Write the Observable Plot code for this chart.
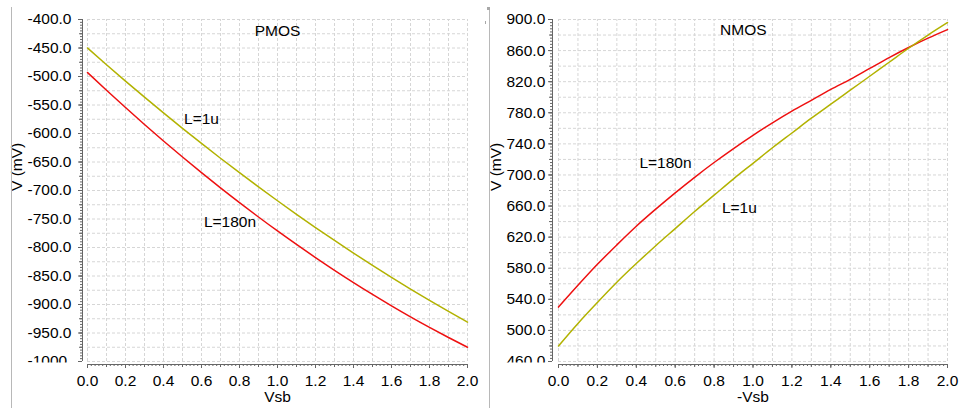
<!DOCTYPE html>
<html>
<head>
<meta charset="utf-8">
<script src="https://cdn.jsdelivr.net/npm/d3@7"></script>
<script src="https://cdn.jsdelivr.net/npm/@observablehq/plot@0.6"></script>
<style>
  html, body { margin: 0; padding: 0; background: #fff; }
  #wrap { position: relative; width: 959px; height: 408px; overflow: hidden; }
  .panel { position: absolute; top: 0; }
  .edge { position: absolute; top: 7px; height: 401px; width: 0; border-left: 1px solid #b8b8b8; }
  .knob { position: absolute; background: #a8a8a8; }
</style>
</head>
<body>
<div id="wrap">
  <div class="panel" id="pmos" style="left:0px"></div>
  <div class="panel" id="nmos" style="left:480px"></div>
  <div class="edge" style="left:11px"></div>
  <div class="edge" style="left:489px"></div>
  <div class="knob" style="left:487px;top:7px;width:3px;height:3px"></div>
  <div class="knob" style="left:485px;top:21px;width:1px;height:3px"></div>
</div>
<script>
// Body-bias sweep (V)
const vsb = [0.0, 0.1, 0.2, 0.3, 0.4, 0.5, 0.6, 0.7, 0.8, 0.9, 1.0,
             1.1, 1.2, 1.3, 1.4, 1.5, 1.6, 1.7, 1.8, 1.9, 2.0];

// PMOS threshold voltage (mV)
const pmosL1u   = [-450, -479.3, -508, -536.2, -563.8, -590.9, -617.4, -643.4, -668.8, -693.7, -718,
                   -741.8, -765, -787.7, -809.8, -831.4, -852.4, -872.9, -892.8, -912.2, -931];
const pmosL180n = [-493, -524.1, -554.5, -584.2, -613.1, -641.3, -668.7, -695.4, -721.3, -746.5, -771,
                   -794.7, -817.7, -840, -861.5, -882.3, -902.3, -921.6, -940.1, -957.9, -975];

// NMOS threshold voltage (mV)
const nmosL180n = [530, 558, 585, 610, 634, 656, 677, 697, 716, 734, 751,
                   767, 782, 796, 810, 823, 837, 851, 864, 876, 887];
const nmosL1u   = [480, 509, 536, 562, 586, 609, 631, 653, 674, 695, 715,
                   735, 754, 773, 791, 809, 827, 845, 863, 880, 896];

// Tick values and their printed labels
const xTicks  = [0, 0.2, 0.4, 0.6, 0.8, 1.0, 1.2, 1.4, 1.6, 1.8, 2.0];
const xLabels = ["0.0", "0.2", "0.4", "0.6", "0.8", "1.0", "1.2", "1.4", "1.6", "1.8", "2.0"];
const pmosYTicks  = [-400, -450, -500, -550, -600, -650, -700, -750, -800, -850, -900, -950, -1000];
const pmosYLabels = ["-400.0", "-450.0", "-500.0", "-550.0", "-600.0", "-650.0", "-700.0",
                     "-750.0", "-800.0", "-850.0", "-900.0", "-950.0", "-1000"];
const nmosYTicks  = [900, 860, 820, 780, 740, 700, 660, 620, 580, 540, 500, 460];
const nmosYLabels = ["900.0", "860.0", "820.0", "780.0", "740.0", "700.0", "660.0",
                     "620.0", "580.0", "540.0", "500.0", "460.0"];

const RED = "#ee1010";
const OLIVE = "#b2b200";
const FONT = "'Liberation Sans', Arial, Helvetica, sans-serif";

const rows = (ys) => vsb.map((x, i) => ({vsb: x, v: ys[i]}));

function panel(el, cfg) {
  const [y0, y1] = cfg.yDomain;
  const labelOf = (ticks, labels) => (d) => labels[ticks.findIndex((t) => Math.abs(t - d) < 1e-9)] ?? "";
  const xMinor = d3.range(0, 2.0001, 0.02);
  const xMid = d3.range(0, 2.0001, 0.1);
  const xGrid = d3.range(0, 2.0001, 0.1);
  const yMinor = d3.range(y0, y1 + 1e-6, cfg.yMinorStep);
  const yMid = d3.range(y0, y1 + 1e-6, cfg.yGridStep);
  const grid = {stroke: "#d6d6d6", strokeDasharray: "3,2", strokeWidth: 1};
  const axisStroke = "#666";

  const chart = Plot.plot({
    width: cfg.width,
    height: 408,
    marginLeft: cfg.marginLeft,
    marginRight: cfg.width - cfg.xRange[1],
    marginTop: 5,
    marginBottom: 44,
    style: {fontFamily: FONT, fontSize: "15.5px", color: "#000", background: "transparent"},
    x: {domain: [0, 2], range: cfg.xRange},
    y: {domain: [y0, y1], range: [361, 19]},
    marks: [
      // dashed grid
      Plot.ruleX(xGrid, {y1: y0, y2: y1, ...grid}),
      Plot.ruleY(yMid, {x1: 0, x2: 2, ...grid}),
      // axis lines
      Plot.ruleY([y0], {x1: 0, x2: 2, dy: 3, stroke: axisStroke}),
      Plot.ruleX([0], {y1: y0, y2: y1, dx: cfg.marginLeft - cfg.xRange[0], stroke: axisStroke}),
      // x ticks
      Plot.axisX({ticks: xMinor, tickSize: 2, tickFormat: () => "", label: null, stroke: axisStroke}),
      Plot.axisX({ticks: xMid, tickSize: 3, tickFormat: () => "", label: null, stroke: axisStroke}),
      Plot.axisX({ticks: xTicks, tickSize: 4, tickPadding: 6, tickFormat: labelOf(xTicks, xLabels),
                  label: null, stroke: axisStroke, fill: "#000"}),
      // y ticks
      Plot.axisY({ticks: yMinor, tickSize: 2, tickFormat: () => "", label: null, stroke: axisStroke}),
      Plot.axisY({ticks: yMid, tickSize: 3, tickFormat: () => "", label: null, stroke: axisStroke}),
      Plot.axisY({ticks: cfg.yTicks, tickSize: 4, tickPadding: cfg.marginLeft - 4 - cfg.labelStart,
                  textAnchor: "start", tickFormat: labelOf(cfg.yTicks, cfg.yLabels),
                  label: null, stroke: axisStroke, fill: "#000"}),
      // curves
      Plot.line(rows(cfg.red), {x: "vsb", y: "v", stroke: RED, strokeWidth: 1.5, curve: "monotone-x"}),
      Plot.line(rows(cfg.olive), {x: "vsb", y: "v", stroke: OLIVE, strokeWidth: 1.5, curve: "monotone-x"}),
      // titles and annotations
      Plot.text(cfg.notes, {x: "x", y: "y", text: "text", fontSize: 15.5, fill: "#000"}),
      Plot.text([cfg.xTitle], {x: () => 1, frameAnchor: "bottom", dy: 37, text: (d) => d, fontSize: 15.5, fill: "#000"}),
      Plot.text(["V (mV)"], {frameAnchor: "left", dx: cfg.yTitleX - cfg.marginLeft, dy: 6, rotate: -90,
                             text: (d) => d, fontSize: 15.5, fill: "#000"})
    ]
  });

  // tick labels are cut off where the value axis ends
  const id = "clip-" + el.id;
  const svg = d3.select(chart);
  svg.append("defs").append("clipPath").attr("id", id)
     .append("rect").attr("x", 0).attr("y", 0).attr("width", cfg.width).attr("height", 362);
  svg.selectAll('g[aria-label="y-axis tick label"]').attr("clip-path", `url(#${id})`);
  el.appendChild(chart);
}

panel(document.getElementById("pmos"), {
  width: 480, marginLeft: 82, xRange: [87, 467], labelStart: 27, yTitleX: 17,
  yDomain: [-1000, -400], yMinorStep: 5, yGridStep: 25,
  yTicks: pmosYTicks, yLabels: pmosYLabels,
  red: pmosL180n, olive: pmosL1u, xTitle: "Vsb",
  notes: [
    {x: 1.0, y: -421, text: "PMOS"},
    {x: 0.60, y: -574, text: "L=1u"},
    {x: 0.75, y: -756, text: "L=180n"}
  ]
});

panel(document.getElementById("nmos"), {
  width: 479, marginLeft: 72, xRange: [78, 467], labelStart: 26, yTitleX: 16,
  yDomain: [460, 900], yMinorStep: 4, yGridStep: 20,
  yTicks: nmosYTicks, yLabels: nmosYLabels,
  red: nmosL180n, olive: nmosL1u, xTitle: "-Vsb",
  notes: [
    {x: 0.95, y: 887, text: "NMOS"},
    {x: 0.55, y: 715, text: "L=180n"},
    {x: 0.93, y: 657, text: "L=1u"}
  ]
});
</script>
</body>
</html>
